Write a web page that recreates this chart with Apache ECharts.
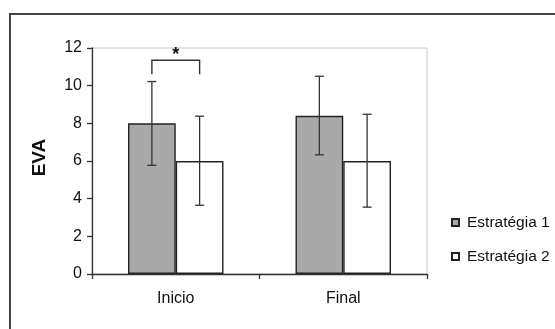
<!DOCTYPE html>
<html>
<head>
<meta charset="utf-8">
<script src="https://cdn.jsdelivr.net/npm/echarts@6/dist/echarts.min.js"></script>
<style>
html,body{margin:0;padding:0;background:#fff;}
#chart{width:555px;height:329px;}
</style>
</head>
<body>
<div id="chart"></div>
<script>
var categories = ['Inicio', 'Final'];
var seriesNames = ['Estratégia 1', 'Estratégia 2'];
var s1Values = [8.0, 8.4];
var s2Values = [6.0, 6.0];
var s1ErrLow = [5.77, 6.33];
var s1ErrHigh = [10.22, 10.5];
var s2ErrLow = [3.65, 3.55];
var s2ErrHigh = [8.38, 8.48];
var yTicks = [0, 2, 4, 6, 8, 10, 12];
// significance bracket: [category index, bracket level, leg bottom, star level]
var sigBracket = [[0, 11.35, 10.6, 12.1]];

var FONT = '"Liberation Sans", Arial, sans-serif';
var GAP = 0.43;
var TXT = '#111';

var errData = [];
for (var i = 0; i < categories.length; i++) {
  errData.push([i, s1ErrLow[i], s1ErrHigh[i], 0]);
  errData.push([i, s2ErrLow[i], s2ErrHigh[i], 1]);
}

function barOffset(api, side) {
  var band = api.size([1, 0])[0];
  var bw = band * (1 - GAP) / 2;
  return side === 0 ? -bw / 2 : bw / 2;
}

var chart = echarts.init(document.getElementById('chart'), null, {renderer: 'canvas'});
chart.setOption({
  animation: false,
  backgroundColor: '#fff',
  textStyle: {fontFamily: FONT},
  graphic: [{
    type: 'rect',
    shape: {x: 10, y: 14, width: 700, height: 500},
    style: {fill: 'none', stroke: '#444', lineWidth: 2},
    z: -10
  }],
  grid: {
    left: 92, right: 128, top: 48, bottom: 55,
    show: true, borderColor: '#c8c8c8', borderWidth: 1, backgroundColor: 'transparent'
  },
  legend: {
    orient: 'vertical',
    left: 451, top: 214.5,
    padding: 0,
    itemWidth: 7, itemHeight: 7, itemGap: 18,
    icon: 'rect',
    data: seriesNames,
    textStyle: {fontFamily: FONT, fontSize: 15.5, color: TXT, lineHeight: 15, padding: [0, 0, 0, 3]}
  },
  xAxis: {
    type: 'category',
    data: categories,
    axisLine: {lineStyle: {color: '#333', width: 1.3}},
    axisTick: {show: true, length: 5, lineStyle: {color: '#333', width: 1.3}},
    axisLabel: {fontFamily: FONT, fontSize: 16, color: TXT, margin: 17},
    splitLine: {show: false}
  },
  yAxis: {
    type: 'value',
    min: 0, max: 12, interval: 2,
    name: 'EVA',
    nameLocation: 'middle',
    nameGap: 43,
    nameTextStyle: {fontFamily: FONT, fontSize: 19, fontWeight: 'bold', color: TXT, padding: [0, 0, 0, 7]},
    axisLine: {show: true, lineStyle: {color: '#333', width: 1.3}},
    axisTick: {show: true, length: 5, lineStyle: {color: '#333', width: 1.3}},
    axisLabel: {
      fontFamily: FONT, fontSize: 16, color: TXT, margin: 10,
      formatter: function (v) { return yTicks.indexOf(v) >= 0 ? String(v) : ''; }
    },
    splitLine: {show: false}
  },
  series: [
    {
      name: seriesNames[0], type: 'bar', data: s1Values,
      barGap: '0%', barCategoryGap: (GAP * 100) + '%',
      itemStyle: {color: '#a9a9a9', borderColor: '#222', borderWidth: 1.4}
    },
    {
      name: seriesNames[1], type: 'bar', data: s2Values,
      barGap: '0%', barCategoryGap: (GAP * 100) + '%',
      itemStyle: {color: '#ffffff', borderColor: '#222', borderWidth: 1.4}
    },
    {
      type: 'custom', name: 'err', z: 5,
      data: errData,
      renderItem: function (params, api) {
        var cat = api.value(0), side = api.value(3);
        var off = barOffset(api, side);
        var lo = api.coord([cat, api.value(1)]);
        var hi = api.coord([cat, api.value(2)]);
        var x = lo[0] + off;
        var cap = 4.5;
        var st = {stroke: '#333', lineWidth: 1.3};
        return {
          type: 'group',
          children: [
            {type: 'line', shape: {x1: x, y1: lo[1], x2: x, y2: hi[1]}, style: st},
            {type: 'line', shape: {x1: x - cap, y1: lo[1], x2: x + cap, y2: lo[1]}, style: st},
            {type: 'line', shape: {x1: x - cap, y1: hi[1], x2: x + cap, y2: hi[1]}, style: st}
          ]
        };
      }
    },
    {
      type: 'custom', name: 'sig', z: 5,
      data: sigBracket,
      renderItem: function (params, api) {
        var cat = api.value(0);
        var top = api.coord([cat, api.value(1)]);
        var leg = api.coord([cat, api.value(2)]);
        var star = api.coord([cat, api.value(3)]);
        var xl = top[0] + barOffset(api, 0);
        var xr = top[0] + barOffset(api, 1);
        var st = {stroke: '#333', lineWidth: 1.4, fill: 'none'};
        return {
          type: 'group',
          children: [
            {type: 'polyline', shape: {points: [[xl, leg[1]], [xl, top[1]], [xr, top[1]], [xr, leg[1]]]}, style: st},
            {type: 'text', style: {text: '*', x: (xl + xr) / 2, y: star[1], align: 'center', verticalAlign: 'top',
              font: 'bold 18px ' + FONT, fill: TXT}}
          ]
        };
      }
    }
  ]
});
</script>
</body>
</html>
